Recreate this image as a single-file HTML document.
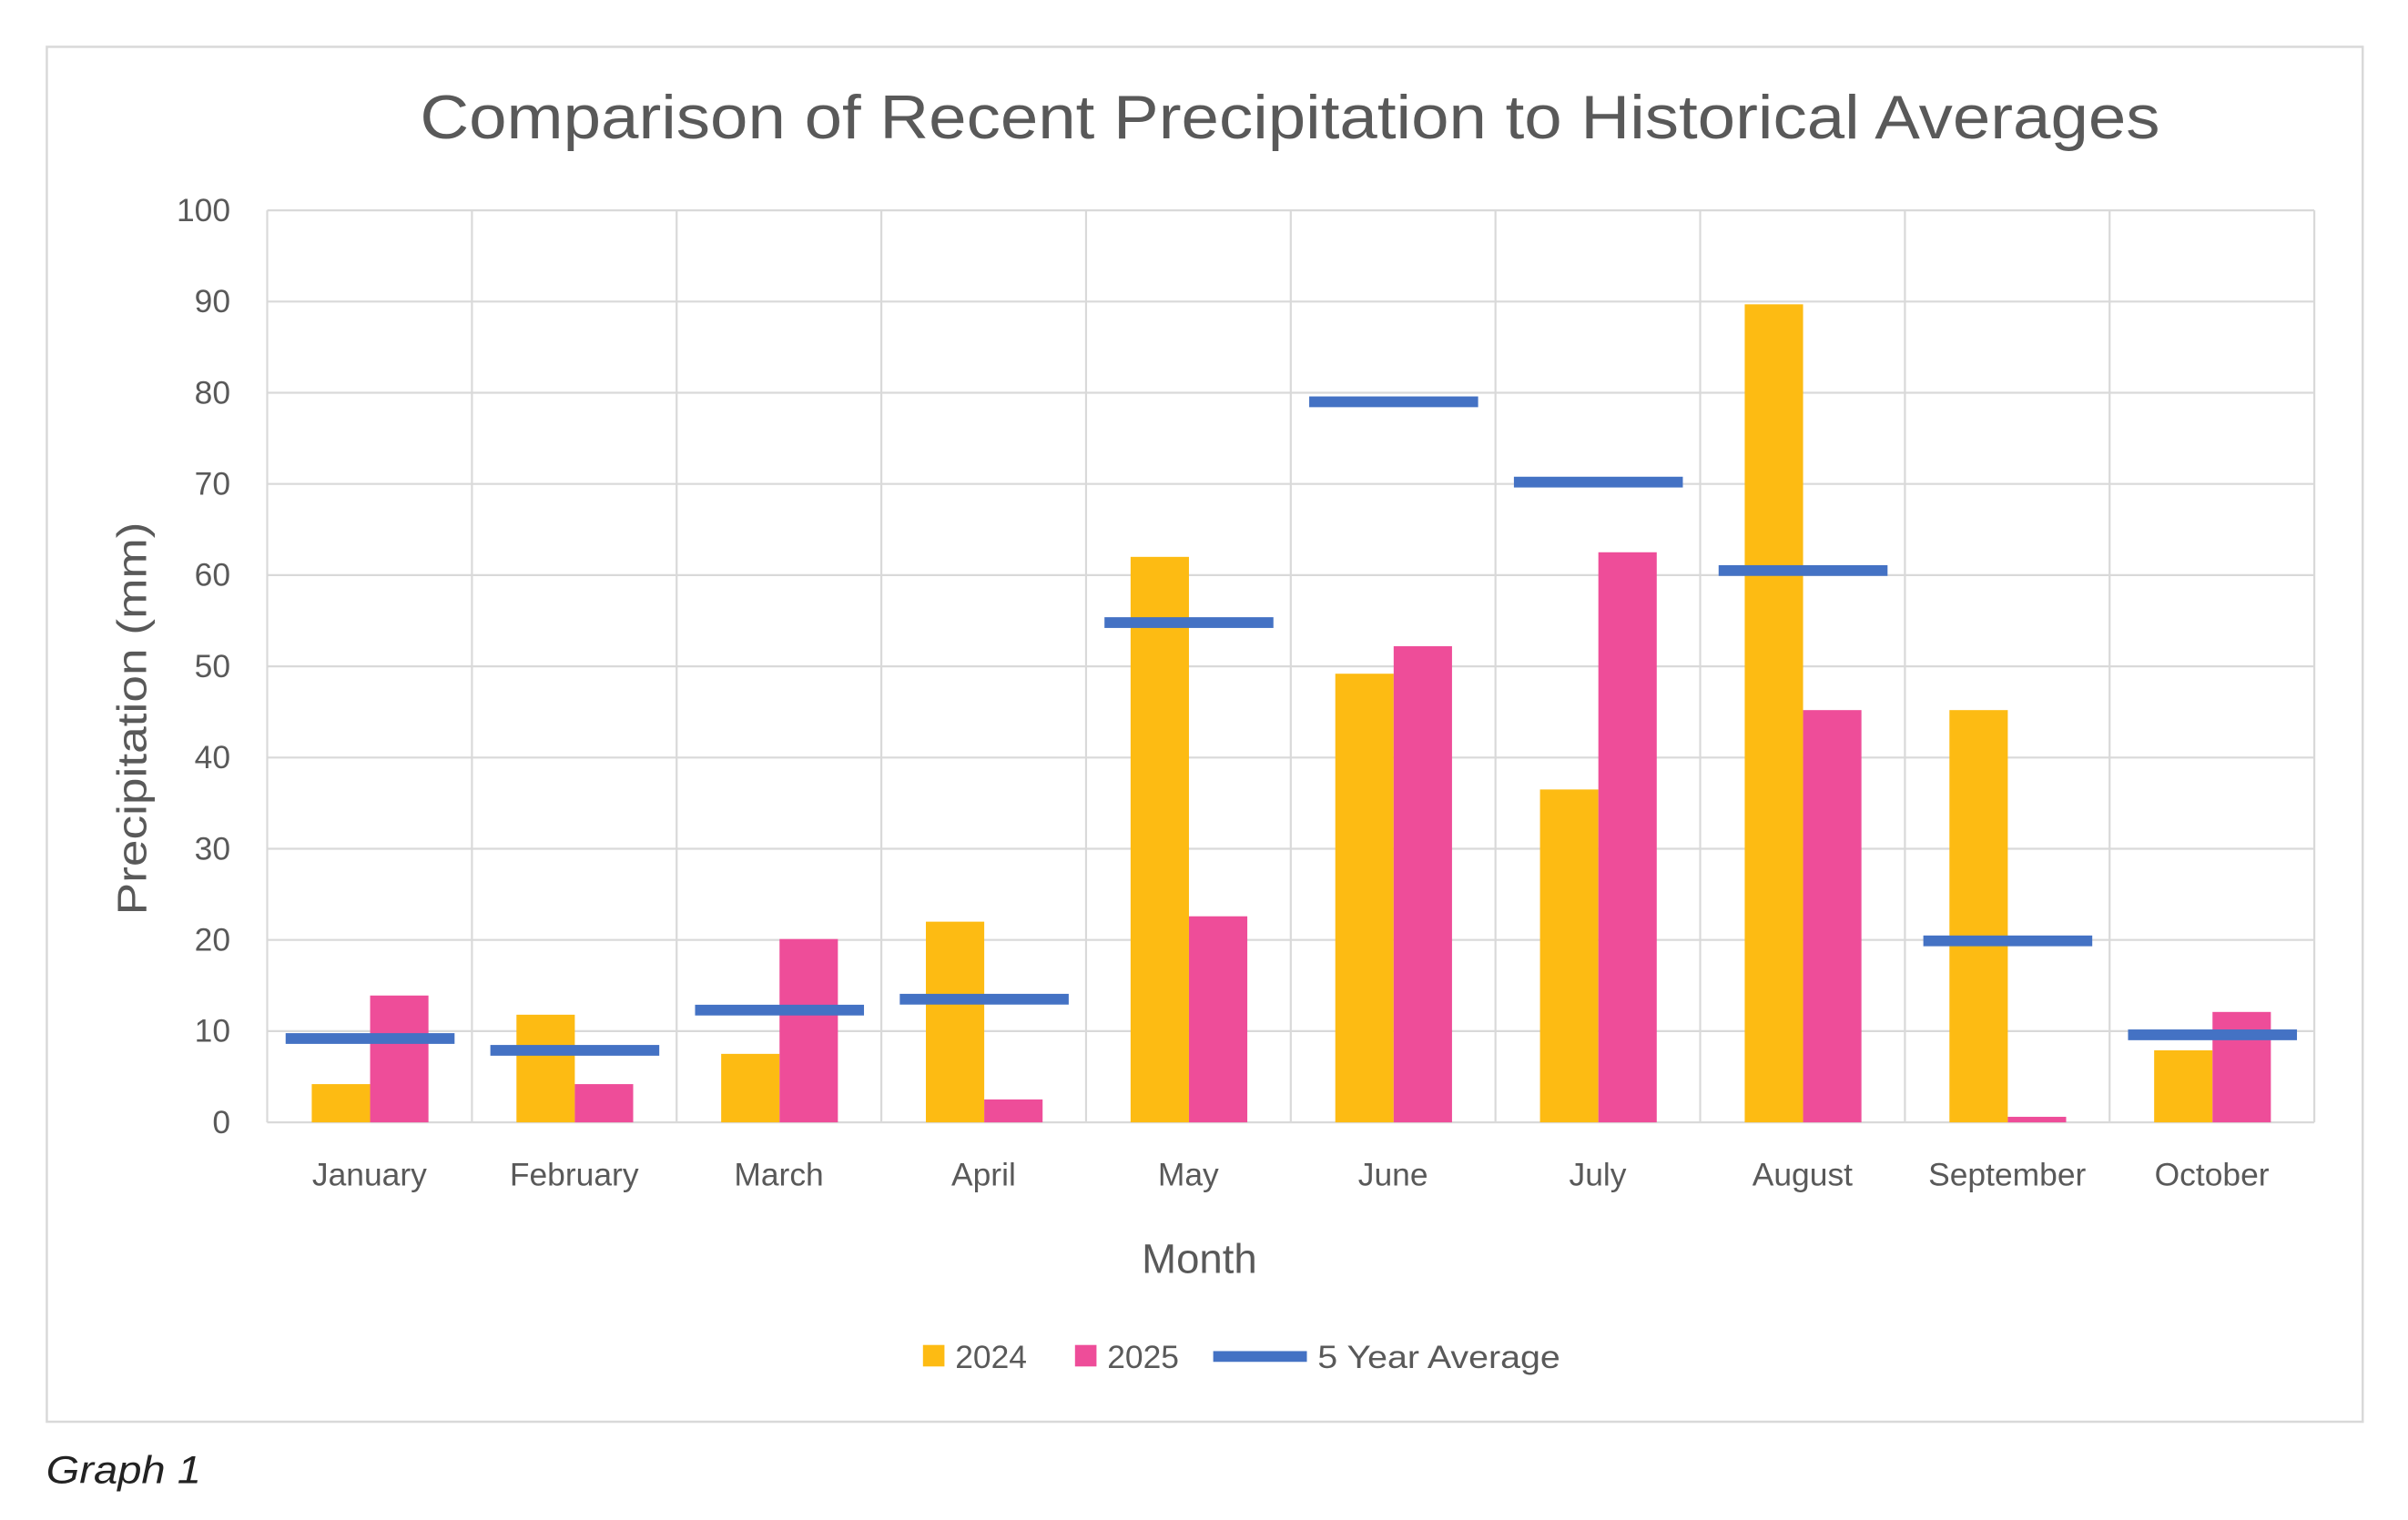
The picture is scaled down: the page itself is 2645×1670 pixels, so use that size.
<!DOCTYPE html>
<html><head><meta charset="utf-8"><style>html,body{margin:0;padding:0;background:#fff}svg{display:block}</style></head>
<body>
<svg width="2645" height="1670" viewBox="0 0 1568 990" xmlns="http://www.w3.org/2000/svg" font-family="'Liberation Sans', sans-serif" fill="#595959">
<rect x="0" y="0" width="1568" height="990" fill="#fff"/>
<rect x="30.5" y="30.5" width="1508" height="895.5" fill="none" stroke="#d9d9d9" stroke-width="1.5"/>
<text x="840" y="90" font-size="40" text-anchor="middle" textLength="1133" lengthAdjust="spacingAndGlyphs">Comparison of Recent Precipitation to Historical Averages</text>
<g stroke="#d9d9d9" stroke-width="1.3">
<line x1="174" y1="137" x2="1507" y2="137"/><line x1="174" y1="196.4" x2="1507" y2="196.4"/><line x1="174" y1="255.8" x2="1507" y2="255.8"/><line x1="174" y1="315.2" x2="1507" y2="315.2"/><line x1="174" y1="374.6" x2="1507" y2="374.6"/><line x1="174" y1="434" x2="1507" y2="434"/><line x1="174" y1="493.4" x2="1507" y2="493.4"/><line x1="174" y1="552.8" x2="1507" y2="552.8"/><line x1="174" y1="612.2" x2="1507" y2="612.2"/><line x1="174" y1="671.6" x2="1507" y2="671.6"/><line x1="174" y1="731" x2="1507" y2="731"/>
<line x1="174" y1="137" x2="174" y2="731"/><line x1="307.3" y1="137" x2="307.3" y2="731"/><line x1="440.6" y1="137" x2="440.6" y2="731"/><line x1="573.9" y1="137" x2="573.9" y2="731"/><line x1="707.2" y1="137" x2="707.2" y2="731"/><line x1="840.5" y1="137" x2="840.5" y2="731"/><line x1="973.8" y1="137" x2="973.8" y2="731"/><line x1="1107.1" y1="137" x2="1107.1" y2="731"/><line x1="1240.4" y1="137" x2="1240.4" y2="731"/><line x1="1373.7" y1="137" x2="1373.7" y2="731"/><line x1="1507" y1="137" x2="1507" y2="731"/>
</g>
<g fill="#FDBB13">
<rect x="203" y="706.1" width="38" height="24.9"/><rect x="336.3" y="660.9" width="38" height="70.1"/><rect x="469.6" y="686.4" width="38" height="44.6"/><rect x="602.9" y="600.3" width="38" height="130.7"/><rect x="736.2" y="362.7" width="38" height="368.3"/><rect x="869.5" y="438.8" width="38" height="292.2"/><rect x="1002.8" y="514.2" width="38" height="216.8"/><rect x="1136.1" y="198.2" width="38" height="532.8"/><rect x="1269.4" y="462.5" width="38" height="268.5"/><rect x="1402.7" y="684.1" width="38" height="46.9"/>
</g>
<g fill="#EE4D99">
<rect x="241" y="648.4" width="38" height="82.6"/><rect x="374.3" y="706.1" width="38" height="24.9"/><rect x="507.6" y="611.6" width="38" height="119.4"/><rect x="640.9" y="716.1" width="38" height="14.9"/><rect x="774.2" y="596.8" width="38" height="134.2"/><rect x="907.5" y="420.9" width="38" height="310.1"/><rect x="1040.8" y="359.7" width="38" height="371.3"/><rect x="1174.1" y="462.5" width="38" height="268.5"/><rect x="1307.4" y="727.4" width="38" height="3.6"/><rect x="1440.7" y="659.1" width="38" height="71.9"/>
</g>
<g fill="#4472C4">
<rect x="186" y="672.9" width="110" height="7"/><rect x="319.3" y="680.6" width="110" height="7"/><rect x="452.6" y="654.4" width="110" height="7"/><rect x="585.9" y="647.3" width="110" height="7"/><rect x="719.2" y="402" width="110" height="7"/><rect x="852.5" y="258.2" width="110" height="7"/><rect x="985.8" y="310.5" width="110" height="7"/><rect x="1119.1" y="368.1" width="110" height="7"/><rect x="1252.4" y="609.3" width="110" height="7"/><rect x="1385.7" y="670.5" width="110" height="7"/>
</g>
<g font-size="21" text-anchor="end">
<text x="150" y="144">100</text><text x="150" y="203.4">90</text><text x="150" y="262.8">80</text><text x="150" y="322.2">70</text><text x="150" y="381.6">60</text><text x="150" y="441">50</text><text x="150" y="500.4">40</text><text x="150" y="559.8">30</text><text x="150" y="619.2">20</text><text x="150" y="678.6">10</text><text x="150" y="738">0</text>
</g>
<g font-size="21" text-anchor="middle">
<text x="240.6" y="772">January</text><text x="373.9" y="772">February</text><text x="507.2" y="772">March</text><text x="640.5" y="772">April</text><text x="773.8" y="772">May</text><text x="907.1" y="772">June</text><text x="1040.4" y="772">July</text><text x="1173.7" y="772">August</text><text x="1307" y="772">September</text><text x="1440.3" y="772">October</text>
</g>
<text x="781" y="829" font-size="27" text-anchor="middle">Month</text>
<text transform="translate(95,468) rotate(-90)" font-size="27" text-anchor="middle" textLength="256" lengthAdjust="spacingAndGlyphs">Precipitation (mm)</text>
<rect x="601" y="876" width="14" height="14" fill="#FDBB13"/>
<text x="622" y="891" font-size="21">2024</text>
<rect x="700" y="876" width="14" height="14" fill="#EE4D99"/>
<text x="721" y="891" font-size="21">2025</text>
<rect x="790" y="880" width="61" height="7" fill="#4472C4"/>
<text x="858" y="891" font-size="21" textLength="158" lengthAdjust="spacingAndGlyphs">5 Year Average</text>
<text x="30" y="966" font-size="25" font-style="italic" fill="#222" textLength="101" lengthAdjust="spacingAndGlyphs">Graph 1</text>
</svg>
</body></html>
